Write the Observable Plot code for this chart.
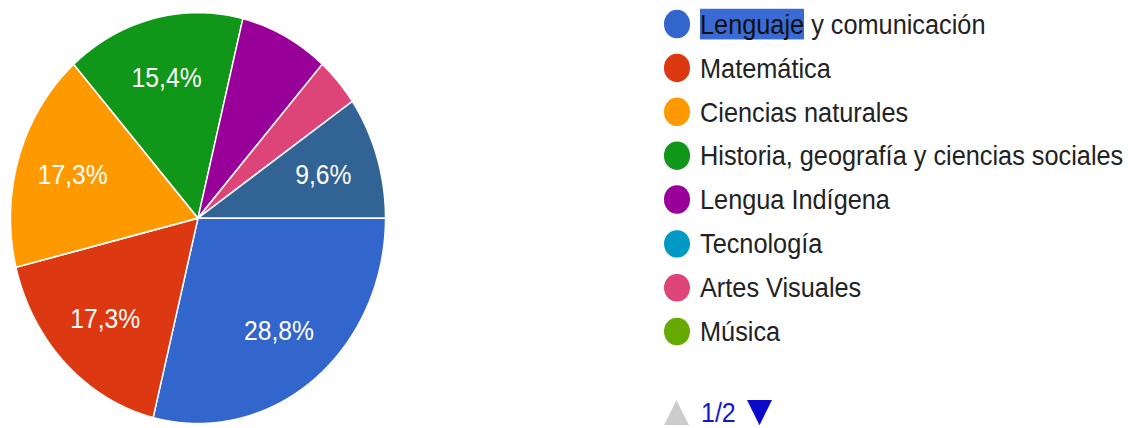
<!DOCTYPE html>
<html>
<head>
<meta charset="utf-8">
<script src="https://cdn.jsdelivr.net/npm/d3@7"></script>
<script src="https://cdn.jsdelivr.net/npm/@observablehq/plot@0.6"></script>
<style>
  html, body { margin: 0; padding: 0; background: #fff; }
  body { width: 1138px; height: 428px; overflow: hidden; }
  #wrap { position: absolute; left: 0; top: 0; width: 1138px; height: 390.5px;
          transform: scaleY(1.096); transform-origin: 0 0;
          font-family: "Liberation Sans", Arial, sans-serif; }
  #pie { position: absolute; left: 0; top: 0; }
  .row { position: absolute; left: 664px; height: 40px; display: flex; align-items: center; }
  .sw { width: 25.5px; height: 25.5px; border-radius: 50%; margin-right: 10.5px; flex: none; }
  .lab { font-size: 25.3px; color: #222; white-space: nowrap; }
  .sel { background: #3a6bd4; color: #111; }
  #pager { position: absolute; left: 664px; top: 362px; height: 28px; display: flex; align-items: center; }
  #pager .txt { font-size: 25px; color: #1515cc; margin: 0 11px 0 12px; }
</style>
</head>
<body>
<div id="wrap">
  <div id="pie"></div>
  <div id="legend"></div>
  <div id="pager"></div>
</div>
<script>
const categories = [
  "Lenguaje y comunicación",
  "Matemática",
  "Ciencias naturales",
  "Historia, geografía y ciencias sociales",
  "Lengua Indígena",
  "Tecnología",
  "Artes Visuales",
  "Música",
  "Educación Física y Salud",
  "Orientación"
];
const counts = [15, 9, 9, 8, 4, 0, 2, 0, 0, 5];
const colors = ["#3366cc", "#dc3912", "#ff9900", "#109618", "#990099",
                "#0099c6", "#dd4477", "#66aa00", "#b82e2e", "#316395"];
const legendPageSize = 8;
const pageLabel = "1/2";

const total = d3.sum(counts);
const arcs = d3.pie().sort(null)
  .startAngle(Math.PI / 2).endAngle(Math.PI / 2 + 2 * Math.PI)(counts);

const points = [];
const labels = [];
arcs.forEach((a, i) => {
  if (a.value <= 0) return;
  const cat = categories[i];
  points.push({cat, x: 0, y: 0});
  const n = Math.max(2, Math.ceil((a.endAngle - a.startAngle) / 0.004));
  for (let k = 0; k <= n; k++) {
    const t = a.startAngle + (a.endAngle - a.startAngle) * k / n;
    points.push({cat, x: Math.sin(t), y: Math.cos(t)});
  }
  const share = a.value / total;
  if (share >= 0.09) {
    const m = (a.startAngle + a.endAngle) / 2;
    labels.push({
      x: 0.7 * Math.sin(m), y: 0.7 * Math.cos(m),
      text: (share * 100).toFixed(1).replace(".", ",") + "%"
    });
  }
});

const chart = Plot.plot({
  width: 400,
  height: 391,
  margin: 0,
  x: {domain: [-1, 1], range: [10, 385], axis: null},
  y: {domain: [-1, 1], range: [386, 11], axis: null},
  color: {domain: categories, range: colors},
  style: {background: "transparent", fontFamily: "'Liberation Sans', Arial, sans-serif"},
  marks: [
    Plot.line(points, {x: "x", y: "y", z: "cat", fill: "cat", stroke: "white",
                       strokeWidth: 1.5, curve: "linear-closed"}),
    Plot.text(labels, {x: "x", y: "y", text: "text", fill: "white", fontSize: 24.7})
  ]
});
document.getElementById("pie").appendChild(chart);

const legend = document.getElementById("legend");
categories.slice(0, legendPageSize).forEach((c, i) => {
  const row = document.createElement("div");
  row.className = "row";
  row.style.top = (2 + i * 40.05) + "px";
  const sw = document.createElement("div");
  sw.className = "sw";
  sw.style.background = colors[i];
  const lab = document.createElement("span");
  lab.className = "lab";
  if (i === 0) {
    const parts = c.split(" ");
    const s = document.createElement("span");
    s.className = "sel";
    s.textContent = parts[0];
    lab.appendChild(s);
    lab.appendChild(document.createTextNode(" " + parts.slice(1).join(" ")));
  } else {
    lab.textContent = c;
  }
  row.appendChild(sw);
  row.appendChild(lab);
  legend.appendChild(row);
});

const pager = document.getElementById("pager");
pager.innerHTML =
  '<svg width="25" height="23"><polygon points="12.5,0 25,23 0,23" fill="#cccccc"/></svg>' +
  '<span class="txt">' + pageLabel + '</span>' +
  '<svg width="25" height="23"><polygon points="0,0 25,0 12.5,23" fill="#0a0ac8"/></svg>';
</script>
</body>
</html>
